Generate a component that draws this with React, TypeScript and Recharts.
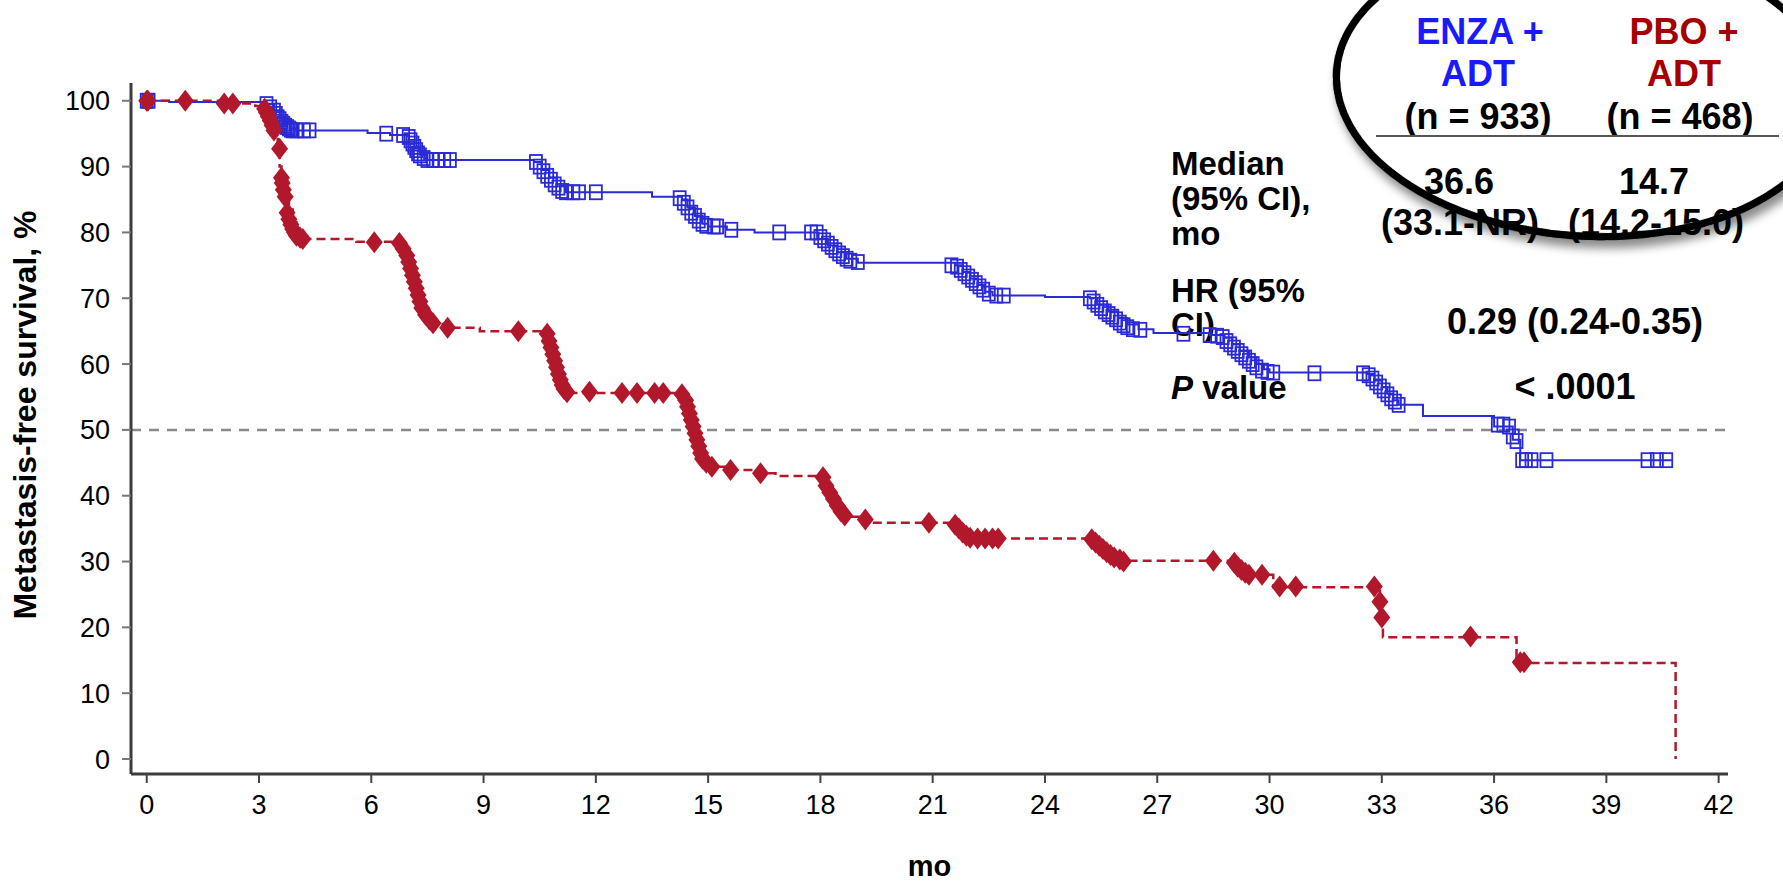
import React from 'react';
import { ComposedChart, Line, Scatter, XAxis, YAxis, ReferenceLine } from 'recharts';

// Kaplan-Meier steps [month, survival %]
const enzaSteps = [
  [0, 100], [0.6, 99.8], [3.2, 99.5], [3.4, 98.5], [3.55, 97.5], [3.7, 96.5], [3.85, 95.8], [4.0, 95.5],
  [5.9, 95.1], [6.5, 94.8], [7.0, 93.8], [7.15, 92.8], [7.3, 91.8], [7.5, 91.0], [10.35, 90.7], [10.55, 89.5],
  [10.75, 88.3], [10.95, 87.0], [11.2, 86.1], [13.5, 85.4], [14.3, 85.0], [14.45, 83.8], [14.65, 82.5],
  [14.85, 81.3], [15.0, 80.9], [15.5, 80.4], [16.24, 80.0], [17.95, 79.0], [18.2, 78.0], [18.45, 77.0],
  [18.7, 76.0], [19.0, 75.4], [21.6, 75.0], [21.8, 74.0], [22.0, 73.0], [22.2, 72.0], [22.4, 71.0],
  [22.6, 70.4], [24.0, 70.2], [25.2, 70.0], [25.4, 69.0], [25.7, 68.0], [25.95, 67.0], [26.2, 66.0],
  [26.5, 65.3], [26.9, 64.7], [28.4, 64.4], [28.8, 64.0], [29.0, 63.0], [29.2, 62.0], [29.45, 61.0],
  [29.65, 60.0], [29.85, 59.2], [30.0, 58.7], [32.6, 58.5], [32.8, 57.5], [33.0, 56.5], [33.15, 55.5],
  [33.3, 54.5], [33.45, 53.8], [34.1, 52.1], [36.0, 50.5], [36.5, 48.5], [36.7, 45.4], [40.75, 45.4],
];

const pboSteps = [
  [0, 100], [2.2, 99.6], [2.9, 99.2], [3.15, 98.5], [3.3, 97], [3.4, 95.5], [3.5, 93], [3.55, 90], [3.6, 88],
  [3.7, 86], [3.8, 83.5], [3.9, 81.5], [4.0, 80], [4.15, 79.0], [5.6, 78.6], [6.75, 78.0], [6.9, 76],
  [7.0, 74.5], [7.1, 73], [7.2, 71.5], [7.3, 70], [7.4, 68.5], [7.55, 67], [7.7, 66.1], [8.0, 65.5],
  [8.9, 65.0], [10.7, 64.2], [10.8, 62.5], [10.9, 61], [10.95, 59.5], [11.05, 58], [11.15, 56.5],
  [11.25, 55.6], [14.3, 55.3], [14.4, 53.5], [14.5, 51.5], [14.6, 50], [14.7, 48], [14.8, 46.5],
  [14.9, 45.2], [15.05, 44.4], [15.6, 43.9], [16.4, 43.4], [16.8, 43.0], [18.07, 42], [18.15, 40.5],
  [18.3, 39], [18.45, 37.8], [18.6, 36.8], [19.3, 35.9], [21.6, 35.3], [21.75, 34.5], [21.9, 33.9],
  [22.1, 33.5], [25.25, 32.9], [25.45, 32.2], [25.65, 31.4], [25.85, 30.7], [26.1, 30.1], [29.05, 29.6],
  [29.25, 28.8], [29.45, 28.0], [30.1, 26.1], [32.95, 23.9], [33.0, 21.5], [33.03, 18.5], [36.6, 14.6],
  [40.85, 0],
];

// censor marks [month, survival %]
const enzaCensored = [
  [0, 100], [0.05, 100], [3.2, 99.5], [3.3, 99], [3.4, 98.5], [3.45, 98], [3.5, 97.5], [3.55, 97.2],
  [3.6, 96.8], [3.65, 96.5], [3.7, 96.2], [3.75, 96], [3.8, 95.8], [3.85, 95.6], [3.9, 95.5], [4.0, 95.5],
  [4.2, 95.5], [4.35, 95.5], [6.4, 95.0], [6.85, 94.8], [7.0, 94.5], [7.05, 94], [7.1, 93.5], [7.15, 93],
  [7.2, 92.5], [7.25, 92], [7.3, 91.7], [7.4, 91.3], [7.5, 91.0], [7.65, 91], [7.8, 91], [7.95, 91],
  [8.1, 91], [10.4, 90.7], [10.5, 90], [10.6, 89.3], [10.7, 88.6], [10.8, 88], [10.9, 87.3], [11.0, 86.8],
  [11.1, 86.3], [11.2, 86.1], [11.4, 86.1], [11.55, 86.1], [12.0, 86.1], [14.24, 85.2], [14.35, 84.5],
  [14.45, 83.8], [14.55, 83], [14.65, 82.5], [14.75, 81.8], [14.85, 81.3], [14.95, 81], [15.15, 80.9],
  [15.24, 80.9], [15.62, 80.4], [16.9, 80.0], [17.75, 80.0], [17.9, 80.0], [18.0, 79.3], [18.1, 78.8],
  [18.2, 78.3], [18.3, 77.8], [18.4, 77.3], [18.5, 76.8], [18.6, 76.4], [18.7, 76], [18.8, 75.7],
  [19.0, 75.5], [21.5, 75], [21.65, 74.8], [21.75, 74.3], [21.85, 73.8], [21.95, 73.3], [22.05, 72.8],
  [22.15, 72.3], [22.25, 71.8], [22.35, 71.3], [22.5, 70.7], [22.7, 70.4], [22.9, 70.4], [25.2, 70],
  [25.3, 69.5], [25.4, 69], [25.5, 68.5], [25.6, 68], [25.7, 67.6], [25.8, 67.2], [25.9, 66.8],
  [26.0, 66.3], [26.1, 65.9], [26.2, 65.6], [26.35, 65.3], [26.55, 65.2], [27.7, 64.6], [28.4, 64.4],
  [28.6, 64.3], [28.75, 64.1], [28.85, 63.5], [28.95, 63], [29.05, 62.5], [29.15, 62], [29.25, 61.5],
  [29.35, 61], [29.45, 60.5], [29.55, 60], [29.65, 59.5], [29.8, 59], [29.95, 58.8], [30.1, 58.7],
  [31.2, 58.6], [32.5, 58.6], [32.65, 58.3], [32.75, 57.8], [32.85, 57.2], [32.95, 56.6], [33.05, 56],
  [33.15, 55.4], [33.25, 54.8], [33.35, 54.3], [33.45, 53.8], [36.1, 50.8], [36.25, 50.8], [36.4, 50.5],
  [36.5, 49], [36.6, 48.3], [36.75, 45.4], [36.85, 45.4], [37.0, 45.4], [37.4, 45.4], [40.1, 45.4],
  [40.35, 45.4], [40.6, 45.4],
];

const pboCensored = [
  [0, 100], [0.03, 100], [1.03, 100], [2.07, 99.6], [2.3, 99.6], [3.15, 98.8], [3.2, 98.2], [3.25, 97.6],
  [3.3, 97], [3.35, 96.3], [3.4, 95.5], [3.55, 92.7], [3.6, 88.3], [3.62, 87.5], [3.65, 86.5], [3.7, 85.4],
  [3.75, 83], [3.8, 82], [3.85, 81.2], [3.9, 80.5], [3.95, 80], [4.0, 79.5], [4.1, 79.2], [4.17, 79.0],
  [6.08, 78.5], [6.75, 78.4], [6.85, 77.5], [6.95, 76.5], [7.0, 75.5], [7.05, 74.5], [7.1, 73.5],
  [7.15, 72.5], [7.2, 71.5], [7.25, 70.5], [7.3, 69.5], [7.35, 68.5], [7.45, 67.5], [7.55, 66.8],
  [7.65, 66.2], [8.04, 65.5], [9.93, 65.0], [10.7, 64.6], [10.75, 63.5], [10.8, 62.5], [10.85, 61.5],
  [10.9, 60.5], [10.95, 59.5], [11.0, 58.5], [11.05, 57.6], [11.1, 56.8], [11.15, 56.2], [11.23, 55.7],
  [11.83, 55.8], [12.7, 55.6], [13.1, 55.6], [13.57, 55.6], [13.8, 55.6], [14.3, 55.4], [14.4, 54.5],
  [14.45, 53.5], [14.5, 52.5], [14.55, 51.5], [14.6, 50.5], [14.65, 49.5], [14.7, 48.5], [14.75, 47.5],
  [14.8, 46.5], [14.85, 45.6], [14.95, 45], [15.1, 44.4], [15.6, 43.9], [16.4, 43.4], [18.07, 42.8],
  [18.15, 41.5], [18.25, 40.5], [18.35, 39.5], [18.45, 38.5], [18.55, 37.6], [18.65, 37.0], [19.2, 36.4],
  [20.9, 35.9], [21.6, 35.6], [21.7, 35], [21.8, 34.4], [21.9, 33.9], [22.0, 33.6], [22.2, 33.5],
  [22.4, 33.5], [22.6, 33.5], [22.75, 33.5], [25.25, 33.4], [25.35, 32.9], [25.45, 32.4], [25.55, 31.9],
  [25.65, 31.4], [25.75, 31], [25.85, 30.6], [26.0, 30.3], [26.1, 30.0], [28.5, 30.1], [29.06, 29.8],
  [29.15, 29.2], [29.25, 28.7], [29.35, 28.3], [29.45, 28.0], [29.8, 28.0], [30.27, 26.2], [30.7, 26.2],
  [32.8, 26.2], [32.95, 23.9], [33.0, 21.5], [35.37, 18.6], [36.7, 14.7], [36.8, 14.7],
];

const xTicks = [0, 3, 6, 9, 12, 15, 18, 21, 24, 27, 30, 33, 36, 39, 42];
const yTicks = [0, 10, 20, 30, 40, 50, 60, 70, 80, 90, 100];

const BLUE = '#2a2ad6';
const RED = '#b2182b';
const FONT = "'Liberation Sans', Arial, Helvetica, sans-serif";

const toRows = (pts: number[][]) => pts.map(([t, s]) => ({ t, s }));

const Box = (p: any) => {
  if (p.cx == null) return null;
  return <rect x={p.cx - 6} y={p.cy - 7} width={12} height={14} fill="none" stroke={BLUE} strokeWidth={1.8} />;
};

const Diamond = (p: any) => {
  if (p.cx == null) return null;
  const { cx, cy } = p;
  return <polygon points={`${cx},${cy - 11} ${cx + 8.5},${cy} ${cx},${cy + 11} ${cx - 8.5},${cy}`} fill={RED} />;
};

export default function App() {
  const layer: React.CSSProperties = { position: 'absolute', left: 0, top: 0 };
  const bold = { fontFamily: FONT, fontWeight: 700, fontSize: 33, fill: '#000' } as const;
  const big = { ...bold, fontSize: 36 } as const;

  return (
    <div style={{ position: 'absolute', left: 0, top: 0, width: 1783, height: 882, overflow: 'hidden', background: '#fff' }}>
      {/* texts that sit under the curves */}
      <svg style={layer} width={1783} height={882}>
        <text x={25} y={415} transform="rotate(-90 25 415)" textAnchor="middle" dominantBaseline="central"
          style={{ fontFamily: FONT, fontWeight: 700, fontSize: 32 }}>Metastasis-free survival, %</text>
        <text x={1171} y={175} {...bold}>Median</text>
        <text x={1171} y={210} {...bold}>(95% CI),</text>
        <text x={1171} y={245} {...bold}>mo</text>
        <text x={1171} y={302} {...bold}>HR (95%</text>
        <text x={1171} y={336} {...bold}>CI)</text>
        <text x={1171} y={399} {...bold}><tspan fontStyle="italic">P</tspan> value</text>
        <text x={1575} y={334} textAnchor="middle" {...big}>0.29 (0.24-0.35)</text>
        <text x={1575} y={399} textAnchor="middle" {...big}>&lt; .0001</text>
      </svg>

      <div style={layer}>
        <ComposedChart width={1783} height={882} margin={{ top: 83, right: 55, left: 31, bottom: 0 }}>
          <XAxis type="number" dataKey="t" domain={[-0.42, 42.25]} ticks={xTicks} allowDataOverflow
            height={108} tickSize={9} tickMargin={12}
            axisLine={{ stroke: '#3c3c3c', strokeWidth: 3 }} tickLine={{ stroke: '#444', strokeWidth: 2 }}
            tick={{ fontSize: 27, fill: '#000', fontFamily: FONT }}
            label={{ value: 'mo', position: 'insideBottom', offset: 6, fontSize: 29, fontWeight: 700, fill: '#000', fontFamily: FONT }} />
          <YAxis type="number" dataKey="s" domain={[-2.28, 102.7]} ticks={yTicks} allowDataOverflow
            width={100} tickSize={9} tickMargin={12}
            axisLine={{ stroke: '#3c3c3c', strokeWidth: 3 }} tickLine={{ stroke: '#777', strokeWidth: 2 }}
            tick={{ fontSize: 27, fill: '#000', fontFamily: FONT }} />
          <ReferenceLine y={50} stroke="#8a8a8a" strokeWidth={2.5} strokeDasharray="10 8" />
          <Line data={toRows(enzaSteps)} dataKey="s" type="stepAfter" stroke={BLUE} strokeWidth={2}
            dot={false} activeDot={false} isAnimationActive={false} />
          <Line data={toRows(pboSteps)} dataKey="s" type="stepAfter" stroke={RED} strokeWidth={2.5}
            strokeDasharray="9 5" dot={false} activeDot={false} isAnimationActive={false} />
          <Scatter data={toRows(enzaCensored)} dataKey="s" shape={Box} isAnimationActive={false} />
          <Scatter data={toRows(pboCensored)} dataKey="s" shape={Diamond} isAnimationActive={false} />
        </ComposedChart>
      </div>

      {/* magnified table */}
      <svg style={{ ...layer, pointerEvents: 'none' }} width={1783} height={882}>
        <defs>
          <filter id="lensShadow" x="-20%" y="-20%" width="140%" height="150%">
            <feDropShadow dx="4" dy="8" stdDeviation="5" floodColor="#000" floodOpacity="0.45" />
          </filter>
        </defs>
        <ellipse cx={1584} cy={88} rx={248} ry={148} transform="rotate(4 1584 88)" fill="#fff"
          stroke="#000" strokeWidth={7} filter="url(#lensShadow)" />
        <text x={1480} y={44} textAnchor="middle" {...big} fill="#1a1aff">ENZA +</text>
        <text x={1478} y={86} textAnchor="middle" {...big} fill="#1a1aff">ADT</text>
        <text x={1478} y={129} textAnchor="middle" {...big}>(n = 933)</text>
        <text x={1684} y={44} textAnchor="middle" {...big} fill="#a50000">PBO +</text>
        <text x={1684} y={86} textAnchor="middle" {...big} fill="#a50000">ADT</text>
        <text x={1680} y={129} textAnchor="middle" {...big}>(n = 468)</text>
        <line x1={1376} y1={136} x2={1779} y2={136} stroke="#555" strokeWidth={2} />
        <text x={1459} y={194} textAnchor="middle" {...big}>36.6</text>
        <text x={1460} y={235} textAnchor="middle" {...big}>(33.1-NR)</text>
        <text x={1654} y={194} textAnchor="middle" {...big}>14.7</text>
        <text x={1656} y={235} textAnchor="middle" {...big}>(14.2-15.0)</text>
        <ellipse cx={1584} cy={88} rx={248} ry={148} transform="rotate(4 1584 88)" fill="none"
          stroke="#000" strokeWidth={7} />
      </svg>
    </div>
  );
}
